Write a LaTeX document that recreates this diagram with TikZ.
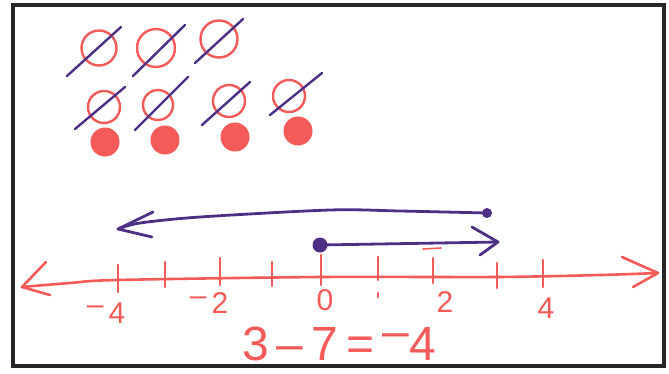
\documentclass[tikz,border=0pt]{standalone}
\usepackage{fontspec}
\setmainfont{Liberation Sans}
\definecolor{pen}{HTML}{F45A58}
\definecolor{grape}{HTML}{4E2F86}
\tikzset{
  redpen/.style={draw=pen,line width=2.6pt,line cap=round,line join=round},
  purplepen/.style={draw=grape,line width=2.8pt,line cap=round,line join=round},
  ring/.style={circle,draw=pen,line width=2.4pt,inner sep=0pt},
  blob/.style={circle,fill=pen,inner sep=0pt,minimum size=29pt},
  slash/.style={draw=grape,line width=2.4pt,line cap=round},
  lbl/.style={text=pen,font=\fontsize{30}{32}\selectfont,inner sep=0pt},
  ticky/.style={draw=pen,line width=2.4pt,line cap=round}
}
\newcommand{\negsign}{\raisebox{0.28em}{–}}
\begin{document}
\begin{tikzpicture}[x=1pt,y=-1pt]
\useasboundingbox (0,0) rectangle (669,373);
% frame
\draw[line width=3.2pt,black!85] (13,5) rectangle (664,366);
% rings
\node[ring,minimum width=35pt,minimum height=33pt] (c1) at (99,48) {};
\node[ring,minimum width=38pt,minimum height=38pt] (c2) at (156,48) {};
\node[ring,minimum width=37pt,minimum height=35pt] (c3) at (219,39) {};
\node[ring,minimum width=32pt,minimum height=27pt] (c4) at (104,107) {};
\node[ring,minimum width=30pt,minimum height=30pt] (c5) at (158,105) {};
\node[ring,minimum width=32pt,minimum height=32pt] (c6) at (229,101) {};
\node[ring,minimum width=32pt,minimum height=32pt] (c7) at (289,96) {};
% slashes
\draw[slash] (67,76) -- (121,27);
\draw[slash] (133,76) -- (185,25);
\draw[slash] (195,63) -- (243,19);
\draw[slash] (75,129) -- (125,87);
\draw[slash] (135,130) -- (188,77);
\draw[slash] (202,125) -- (250,82);
\draw[slash] (270,115) -- (322,73);
% filled dots
\node[blob] (d1) at (105,142) {};
\node[blob] (d2) at (165,140) {};
\node[blob] (d3) at (235,137) {};
\node[blob] (d4) at (298,131) {};
% number line
\coordinate (L) at (22,287);
\coordinate (R) at (658,273);
\draw[redpen] plot[smooth] coordinates {(L) (70,283) (117,280) (321,277) (497,277) (600,275) (R)};
\draw[redpen] (46,262) -- (L) -- (50,295);
\draw[redpen] (622,257) -- (R) -- (633,287);
% ticks
\draw[ticky] (118,265) -- (118,292);
\draw[ticky] (165,262) -- (165,287);
\draw[ticky] (220,258) -- (220,285);
\draw[ticky] (272,262) -- (272,286);
\draw[ticky] (321,255) -- (321,285);
\draw[ticky] (378,257) -- (378,280);
\draw[ticky] (378,293) -- (378,297);
\draw[ticky] (433,258) -- (433,283);
\draw[ticky] (497,263) -- (497,288);
\draw[ticky] (543,260) -- (543,287);
\draw[draw=pen,line width=1.6pt,line cap=round] (423,249) -- (441,248);
% labels
\node[lbl] (lm4) at (106,313) {\negsign\,4};
\node[lbl] (lm2) at (209,303) {\negsign\,2};
\node[lbl] (l0) at (325,300) {0};
\node[lbl] (l2) at (445,302) {2};
\node[lbl] (l4) at (546,308) {4};
% purple arrows
\node[circle,fill=grape,inner sep=0pt,minimum size=10pt] (s1) at (487,213) {};
\coordinate (t1) at (118,229);
\draw[purplepen] plot[smooth] coordinates {(s1.center) (400,211) (330,210) (200,217) (140,223) (t1)};
\draw[purplepen] (153,212) -- (t1) -- (152,237);
\node[circle,fill=grape,inner sep=0pt,minimum size=15pt] (s2) at (320,245) {};
\coordinate (t2) at (498,242);
\draw[purplepen] (s2.center) -- (t2);
\draw[purplepen] (472,227) -- (t2) -- (480,255);
% equation
\node[text=pen,font=\fontsize{48}{52}\selectfont,inner sep=0pt] (eq) at (339,344) {3\,–\,7\,=\,\negsign4};
\end{tikzpicture}
\end{document}
